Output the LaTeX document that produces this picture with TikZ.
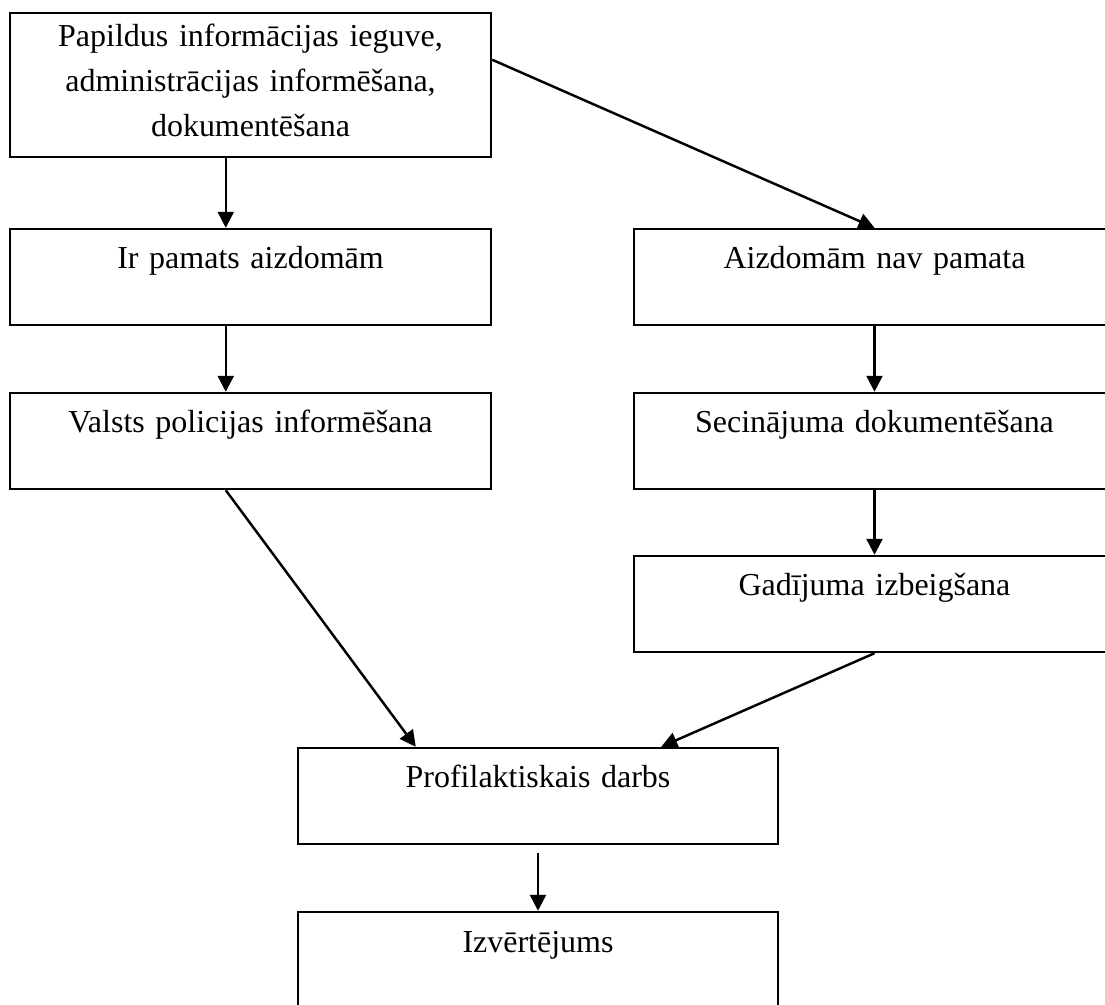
\documentclass[tikz,border=0pt]{standalone}
\usepackage{fontspec}
\setmainfont{Liberation Serif}
\usepackage{tikz}
\usetikzlibrary{arrows.meta}

\begin{document}
\begin{tikzpicture}[
            stage/.style={shape=rectangle, draw, line width=0.7pt, inner xsep=0pt, inner ysep=0pt,
                text width=4.81cm, align=center, text height=0.40cm, text depth=0.56cm,
                font=\fontsize{9.1}{12.8}\selectfont},
            flow/.style={line width=0.7pt, -{Triangle[length=0.16cm, width=0.16cm]}}]
        \useasboundingbox (0,0) rectangle (11.05,10.04);

        \node[stage, text height=0.34cm, text depth=1.10cm] (info) at (2.505,9.19)
            {Papildus informācijas ieguve,\\ administrācijas informēšana,\\ dokumentēšana};

        \node[stage] (pamats) at (2.505,7.27) {Ir pamats aizdomām};
        \node[stage] (nav) at (8.745,7.27) {Aizdomām nav pamata};
        \node[stage] (valsts) at (2.505,5.63) {Valsts policijas informēšana};
        \node[stage] (secin) at (8.745,5.63) {Secinājuma dokumentēšana};
        \node[stage] (gadij) at (8.745,4.00) {Gadījuma izbeigšana};
        \node[stage, text width=4.80cm] (profil) at (5.38,2.08) {Profilaktiskais darbs};
        \node[stage, text width=4.80cm] (izvert) at (5.38,0.44) {Izvērtējums};

        % left branch
        \draw[flow] ([xshift=2.17cm]info.south west) -- ([xshift=2.17cm]pamats.north west);
        \draw[flow] ([xshift=2.17cm]pamats.south west) -- ([xshift=2.17cm]valsts.north west);
        \draw[flow] ([xshift=2.17cm]valsts.south west) -- ([xshift=1.19cm]profil.north west);

        % right branch
        \draw[flow] ([yshift=-0.48cm]info.north east) -- (nav.north);
        \draw[flow] (nav.south) -- (secin.north);
        \draw[flow] (secin.south) -- (gadij.north);
        \draw[flow] (gadij.south) -- ([xshift=-1.18cm]profil.north east);

        \draw[flow, shorten <=0.08cm] (profil.south) -- (izvert.north);
    \end{tikzpicture}
\end{document}
